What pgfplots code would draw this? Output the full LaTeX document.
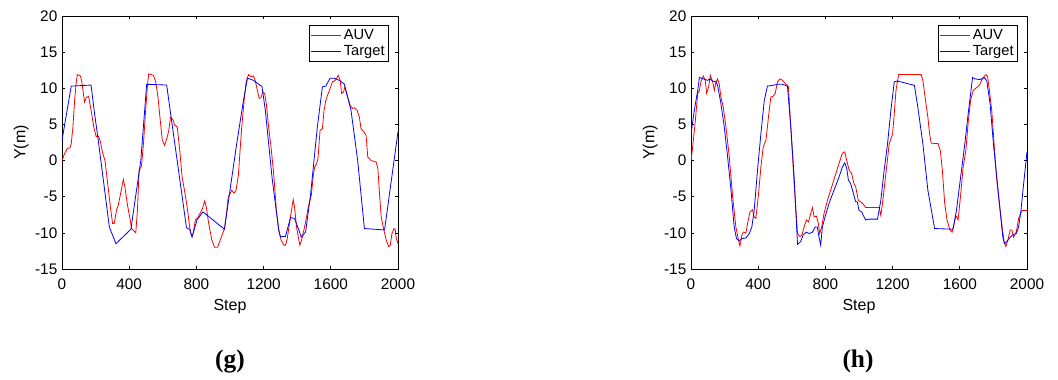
\documentclass[border=0pt]{standalone}
\usepackage{pgfplots}
\pgfplotsset{compat=1.18}
\usepackage{pgfplotstable}
\usepackage{fontspec}
\setmainfont{Liberation Sans}
\newfontfamily\capfont{Liberation Serif}

% ---------- panel (g) ----------
\pgfplotstableread{
step y
0 0
16 1.0
32 1.7
47 1.75
55 2.35
65 4.65
75 8.3
85 10.9
91 11.9
110 11.7
118 10.9
134 8.1
144 8.7
158 8.9
173 7.0
189 4.65
203 3.35
217 3.35
229 2.6
242 1.0
256 0
272 -3.2
288 -6.4
301 -8.7
311 -8.7
325 -6.8
335 -6.2
351 -4.3
365 -2.6
374 -3.6
390 -6.2
406 -8.2
414 -9.4
439 -10.0
449 -6.9
459 -1.3
473 -0.8
485 2.35
498 7.0
508 10.2
516 12.0
544 11.8
558 10.9
571 8.8
583 6.0
597 2.8
611 2.1
627 3.3
636 4.2
646 6.0
662 5.6
670 4.9
686 4.65
701 1.4
715 -2.3
729 -4.1
745 -6.4
760 -9.2
768 -10.2
780 -10.2
794 -8.2
808 -7.9
824 -7.2
837 -6.6
849 -5.6
859 -6.4
873 -8.7
892 -11.0
908 -12.0
926 -12.0
942 -11.0
956 -10.1
967 -9.4
978 -7.5
990 -5.0
1000 -4.6
1010 -4.1
1024 -4.5
1036 -4.1
1050 -2.0
1060 1.4
1070 4.65
1084 8.3
1096 10.9
1110 11.9
1124 11.6
1140 11.7
1150 11.1
1160 10.0
1174 8.6
1184 8.7
1196 9.5
1206 9.3
1216 7.9
1230 4.65
1244 1.9
1260 -1.8
1276 -6.9
1290 -9.6
1304 -11.0
1320 -11.7
1330 -11.7
1340 -10.9
1354 -8.7
1366 -6.9
1376 -5.4
1384 -6.4
1396 -9.2
1410 -11.0
1416 -11.7
1426 -11.0
1440 -9.6
1456 -7.8
1466 -6.4
1476 -5.5
1484 -4.8
1496 -2.0
1504 -0.9
1516 -0.4
1524 0.3
1536 4.2
1550 4.4
1560 7.0
1570 8.3
1580 9.0
1596 10.0
1610 10.9
1626 11.1
1636 11.4
1644 11.8
1656 11.1
1664 9.3
1676 9.5
1684 10.2
1700 8.8
1716 7.6
1730 7.2
1740 7.3
1756 7.0
1770 6.0
1780 4.4
1796 4.0
1810 3.5
1820 0.5
1840 0
1870 -0.2
1880 -1.1
1890 -4.6
1900 -7.8
1916 -9.6
1930 -11.0
1944 -11.9
1954 -11.7
1964 -10.1
1976 -9.4
1984 -9.6
1990 -10.8
2000 -11.5
}\auvG

\pgfplotstableread{
step y
0 2.8
55 10.3
173 10.45
191 7.0
213 3.3
282 -9.2
321 -11.5
410 -9.5
469 0
504 10.55
623 10.45
741 -9.3
760 -9.5
774 -10.6
804 -8.2
839 -7.1
967 -9.5
1000 -4.1
1040 2.35
1080 8.3
1104 11.4
1140 11.1
1180 10.4
1190 10.3
1210 7.0
1250 -2.3
1290 -9.6
1300 -10.5
1330 -10.5
1360 -7.9
1384 -8.0
1410 -9.6
1424 -10.6
1450 -9.9
1480 -4.6
1520 4.65
1550 10.2
1570 10.3
1596 11.4
1620 11.4
1650 11.1
1680 10.6
1720 7.0
1760 0
1800 -9.4
1920 -9.6
2000 4.0
}\targetG

% ---------- panel (h) ----------
\pgfplotstableread{
step y
0 0
10 1.9
26 5.6
40 9.3
50 9.7
59 10.9
73 11.7
85 11.1
93 9.3
105 10.2
115 11.8
129 10.9
139 9.7
149 10.9
158 11.3
168 10.6
178 8.8
192 7.4
208 4.65
228 0.5
248 -5.0
267 -9.2
283 -11.0
291 -11.8
303 -10.3
311 -9.9
327 -10.0
337 -8.7
351 -7.1
366 -6.8
376 -7.8
386 -8.0
402 -4.6
416 -0.9
430 1.9
446 2.8
461 6.0
475 8.8
489 8.9
501 9.3
515 10.9
529 11.3
545 11.1
564 10.6
580 10.2
594 4.65
614 -3.2
634 -10.1
648 -10.5
660 -10.3
673 -9.2
687 -8.2
699 -8.5
713 -7.3
723 -6.5
733 -7.8
747 -7.7
758 -8.7
766 -10.1
778 -9.2
792 -7.3
812 -5.5
838 -3.6
862 -1.8
881 -0.4
901 1.0
915 1.2
927 0
941 -1.3
956 -1.8
970 -3.2
980 -3.6
996 -5.5
1010 -5.7
1024 -6.0
1040 -6.5
1120 -6.5
1130 -7.6
1140 -5.9
1160 -1.8
1180 2.35
1200 3.7
1210 6.5
1220 9.7
1236 11.9
1260 11.9
1370 11.9
1380 11.1
1396 8.3
1410 6.0
1420 3.7
1430 2.4
1470 2.35
1484 1.4
1496 -1.3
1510 -5.9
1524 -8.2
1540 -9.5
1554 -9.9
1564 -8.9
1576 -7.6
1590 -8.2
1604 -5.0
1620 -0.9
1636 1.4
1650 5.3
1664 8.3
1680 9.7
1700 10.1
1716 10.4
1730 11.1
1744 11.6
1756 11.9
1766 11.6
1776 9.7
1790 7.0
1804 2.35
1820 -2.7
1840 -6.9
1854 -9.6
1864 -11.2
1874 -11.9
1886 -11.0
1900 -9.6
1910 -9.6
1920 -10.6
1936 -9.9
1950 -8.0
1970 -6.9
2000 -6.9
}\auvH

\pgfplotstableread{
step y
0 3.7
20 7.0
40 9.7
50 11.5
73 11.3
99 11.1
113 11.3
129 11.0
149 10.9
158 10.4
178 7.9
198 4.65
218 0.5
238 -4.1
257 -9.2
271 -10.8
287 -11.1
303 -10.8
327 -10.7
347 -10.1
362 -9.2
376 -6.9
396 -1.3
416 3.7
436 8.3
455 10.3
485 10.4
515 10.55
545 10.55
574 10.3
594 4.65
614 -2.3
634 -11.6
653 -11.2
667 -10.3
687 -9.9
703 -10.1
723 -9.9
739 -9.2
752 -9.2
762 -10.6
772 -11.7
782 -9.2
798 -7.8
822 -5.9
851 -4.1
881 -2.3
901 -0.9
915 -0.3
927 -1.1
937 -2.7
950 -3.2
964 -4.3
980 -5.7
990 -5.7
1000 -6.9
1016 -7.1
1030 -7.8
1040 -8.2
1060 -8.1
1110 -8.1
1130 -5.5
1150 -1.3
1170 2.35
1190 7.0
1210 10.9
1230 11.0
1280 10.7
1330 10.4
1350 7.4
1380 2.35
1410 -4.1
1450 -9.4
1560 -9.5
1580 -6.9
1600 -3.2
1630 2.35
1650 6.5
1676 11.5
1690 11.3
1720 11.2
1744 11.5
1760 11.1
1780 7.9
1800 2.35
1824 -3.2
1844 -7.8
1856 -10.6
1866 -11.5
1880 -11.2
1900 -10.6
1920 -10.2
1936 -10.1
1950 -9.2
1964 -6.9
1980 -3.2
2000 1.2
}\targetH

\pgfplotsset{
  trackaxis/.style={
    scale only axis,
    width=252pt, height=189.75pt,
    anchor=south west,
    xmin=0, xmax=2000, ymin=-15, ymax=20,
    xtick={0,400,...,2000}, ytick={-15,-10,...,20},
    tick align=inside,
    major tick length=2.6pt,
    every tick/.style={black, line width=0.5pt},
    axis line style={line width=0.5pt},
    /pgf/number format/1000 sep={},
    /pgf/number format/assume math mode=true,
    scaled ticks=false,
    tick label style={font=\fontsize{11.5}{13}\selectfont},
    xticklabel style={yshift=-4pt},
    label style={font=\fontsize{12}{14}\selectfont},
    xlabel={Step}, ylabel={Y(m)},
    xlabel style={yshift=0pt},
    ylabel style={yshift=-2pt},
    legend cell align=left,
    legend style={
      at={(0.973,0.964)}, anchor=north east,
      draw=black, line width=0.5pt,
      font=\fontsize{11}{13}\selectfont,
      inner sep=1pt, row sep=-1pt,
      /tikz/every even column/.append style={column sep=0pt},
    },
    legend image code/.code={\draw[#1] (0pt,0pt) -- (22.5pt,0pt);},
  },
  auvline/.style={red, line width=0.6pt},
  targetline/.style={blue, line width=0.6pt},
}

\begin{document}
\begin{tikzpicture}
  % page frame: 1058 x 379 px at 0.75pt per px
  \path[use as bounding box] (0,0) rectangle (793.5pt,284.25pt);

  \begin{axis}[trackaxis, at={(46.5pt,82.5pt)}]
    \addplot[auvline] table[x=step, y=y] {\auvG};
    \addplot[targetline] table[x=step, y=y] {\targetG};
    \legend{AUV, Target}
  \end{axis}

  \begin{axis}[trackaxis, at={(518.25pt,82.5pt)}]
    \addplot[auvline] table[x=step, y=y] {\auvH};
    \addplot[targetline] table[x=step, y=y] {\targetH};
    \legend{AUV, Target}
  \end{axis}

  \node[font=\capfont\bfseries\fontsize{19}{22}\selectfont] at (172.5pt,13pt) {(g)};
  \node[font=\capfont\bfseries\fontsize{19}{22}\selectfont] at (643.5pt,13pt) {(h)};
\end{tikzpicture}
\end{document}
